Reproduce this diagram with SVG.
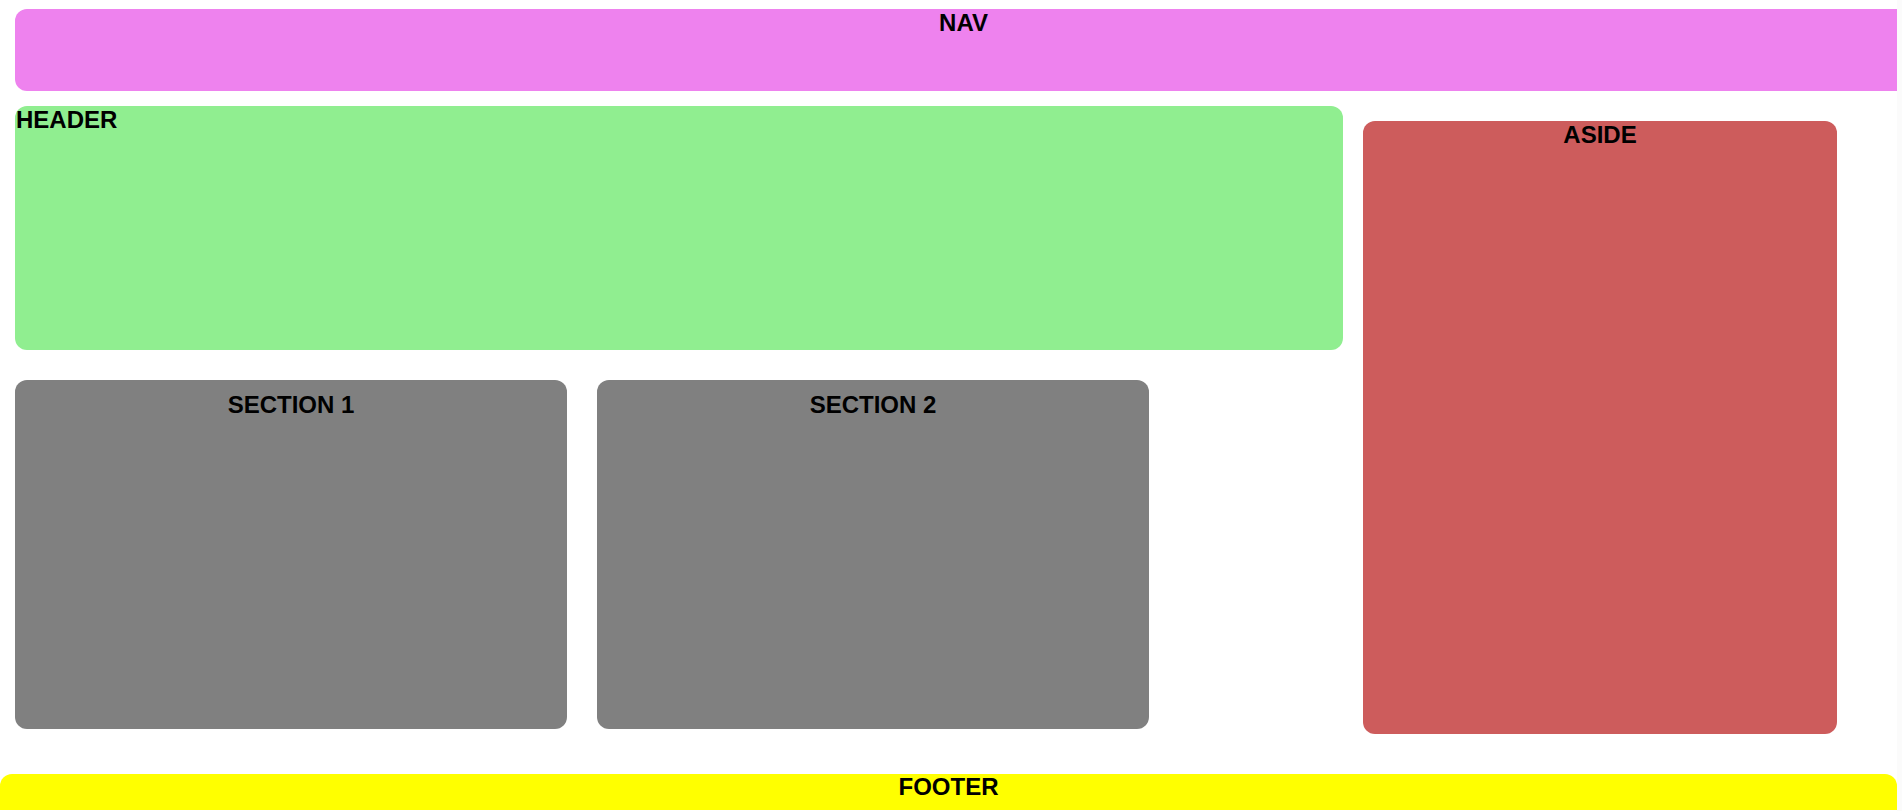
<svg xmlns="http://www.w3.org/2000/svg" width="1902" height="811" viewBox="0 0 1902 811">
  <style>
    .lbl { font-family: "Liberation Sans", Arial, sans-serif; font-weight: bold; font-size: 24px; fill: #000000; }
    .c { text-anchor: middle; }
  </style>
  <rect x="0" y="0" width="1902" height="811" fill="#ffffff"/>
  <rect x="1897" y="0" width="5" height="811" fill="#fbfbfb"/>
  <g id="nav">
    <path d="M27,9 H1897 V91 H27 A12,12 0 0 1 15,79 V21 A12,12 0 0 1 27,9 Z" fill="#ee82ee"/>
    <text class="lbl c" x="963.5" y="31">NAV</text>
  </g>
  <g id="header">
    <rect x="15" y="106" width="1328" height="244" rx="12" ry="12" fill="#90ee90"/>
    <text class="lbl" x="16" y="128">HEADER</text>
  </g>
  <g id="aside">
    <rect x="1363" y="121" width="474" height="613" rx="12" ry="12" fill="#cd5c5c"/>
    <text class="lbl c" x="1600" y="143">ASIDE</text>
  </g>
  <g id="section1">
    <rect x="15" y="380" width="552" height="349" rx="12" ry="12" fill="#808080"/>
    <text class="lbl c" x="291" y="413">SECTION 1</text>
  </g>
  <g id="section2">
    <rect x="597" y="380" width="552" height="349" rx="12" ry="12" fill="#808080"/>
    <text class="lbl c" x="873" y="413">SECTION 2</text>
  </g>
  <g id="footer">
    <path d="M0,786 A12,12 0 0 1 12,774 H1885 A12,12 0 0 1 1897,786 V810 H0 Z" fill="#ffff00"/>
    <text class="lbl c" x="948.5" y="795">FOOTER</text>
  </g>
  <g id="connectors"/>
</svg>
